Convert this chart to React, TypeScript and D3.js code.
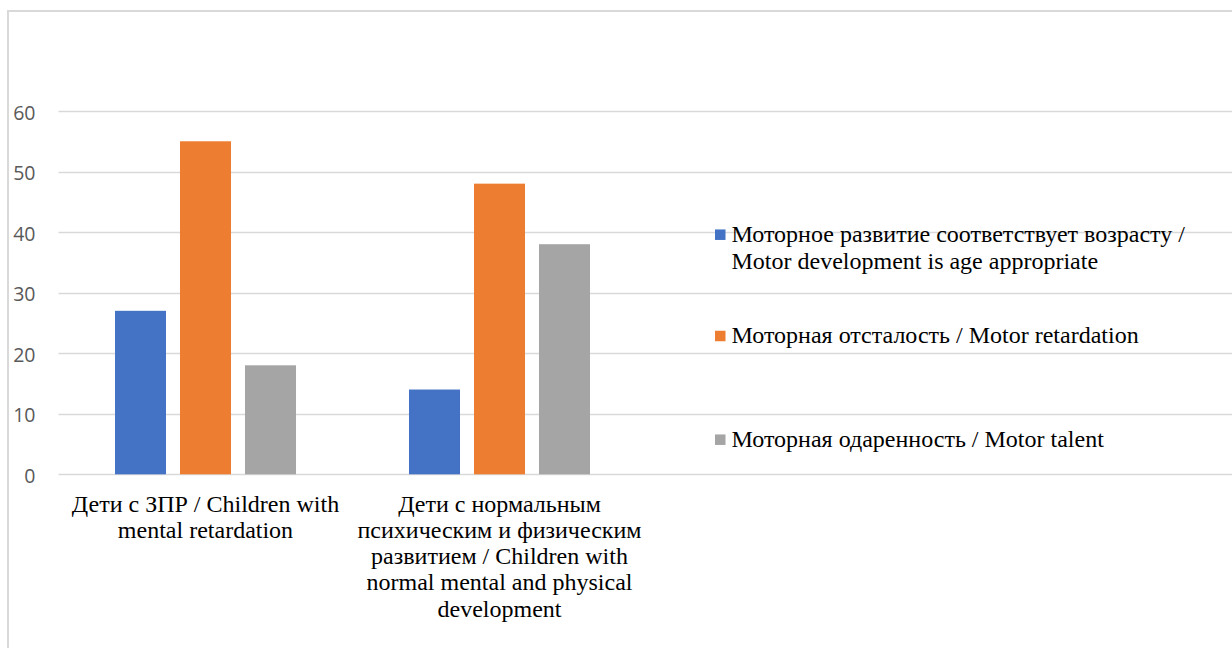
import React from "react";
import * as d3 from "d3";

// Groups of children and the three motor-development outcomes
const categories = ["zpr", "norm"];
const categoryLines = [
  ["Дети с ЗПР / Children with", "mental retardation"],
  [
    "Дети с нормальным",
    "психическим и физическим",
    "развитием / Children with",
    "normal mental and physical",
    "development",
  ],
];
const seriesNames = [
  ["Моторное развитие соответствует возрасту /", "Motor development is age appropriate"],
  ["Моторная отсталость / Motor retardation"],
  ["Моторная одаренность / Motor talent"],
];
const seriesColors = ["#4472C4", "#ED7D31", "#A5A5A5"];
const ageAppropriate = [27, 14];
const retardation = [55, 48];
const talent = [18, 38];
const yTicks = [0, 10, 20, 30, 40, 50, 60];

const seriesValues = [ageAppropriate, retardation, talent];

const W = 1232;
const H = 648;

const serif = "'Liberation Serif', 'DejaVu Serif', 'Times New Roman', Times, serif";

export default function App() {
  const y = d3.scaleLinear().domain([0, 60]).range([474.3, 111]);
  const x0 = d3.scaleBand<string>().domain(categories).range([58.5, 646.5]);
  const x1 = d3
    .scaleBand<number>()
    .domain([0, 1, 2])
    .range([0, x0.bandwidth()])
    .paddingInner(0.2154)
    .paddingOuter(0.869);

  const plotLeft = 58.5;
  const plotRight = 1234;

  const catLineH = 26.25;
  const catBase = 511.7;

  const legendX = 715;
  const legendBaselines = [241.7, 343, 446.7];
  const legendLineH = 27.3;
  const box = 10.5;

  return (
    <div style={{ position: "absolute", left: 0, top: 0, width: W, height: H, overflow: "hidden" }}>
      <svg width={W} height={H} viewBox={`0 0 ${W} ${H}`} style={{ display: "block", background: "#fff" }}>
        {/* chart frame */}
        <rect x={8} y={11} width={W + 20} height={H + 20} fill="#fff" stroke="#D9D9D9" strokeWidth={2} />

        {/* gridlines */}
        {yTicks.map((t) => (
          <line
            key={"g" + t}
            x1={plotLeft}
            x2={plotRight}
            y1={Math.round(y(t)) + 0.5}
            y2={Math.round(y(t)) + 0.5}
            stroke="#D9D9D9"
            strokeWidth={1.5}
          />
        ))}

        {/* y tick labels */}
        {yTicks.map((t) => (
          <text
            key={"t" + t}
            x={35.5}
            y={y(t) + 1}
            textAnchor="end"
            dominantBaseline="central"
            style={{ fontFamily: "'Open Sans', sans-serif", fontSize: "19.5px" }}
            fill="#595959"
          >
            {t}
          </text>
        ))}

        {/* bars */}
        {categories.map((c, ci) => (
          <g key={c} transform={`translate(${x0(c)},0)`}>
            {seriesValues.map((vals, si) => (
              <rect
                key={si}
                x={x1(si)}
                y={y(vals[ci])}
                width={x1.bandwidth()}
                height={y(0) - y(vals[ci])}
                fill={seriesColors[si]}
              />
            ))}
          </g>
        ))}

        {/* category labels */}
        {categories.map((c, ci) => (
          <text
            key={"c" + c}
            textAnchor="middle"
            style={{ fontFamily: serif, fontSize: "24px" }}
            fill="#000"
          >
            {categoryLines[ci].map((line, li) => (
              <tspan key={li} x={(x0(c) as number) + x0.bandwidth() / 2} y={catBase + li * catLineH}>
                {line}
              </tspan>
            ))}
          </text>
        ))}

        {/* legend */}
        {seriesNames.map((lines, si) => (
          <g key={"l" + si}>
            <rect
              x={legendX}
              y={legendBaselines[si] - 7 - box / 2}
              width={box}
              height={box}
              fill={seriesColors[si]}
            />
            <text style={{ fontFamily: serif, fontSize: "24px" }} fill="#000">
              {lines.map((line, li) => (
                <tspan key={li} x={legendX + 16.5} y={legendBaselines[si] + li * legendLineH}>
                  {line}
                </tspan>
              ))}
            </text>
          </g>
        ))}
      </svg>
    </div>
  );
}
